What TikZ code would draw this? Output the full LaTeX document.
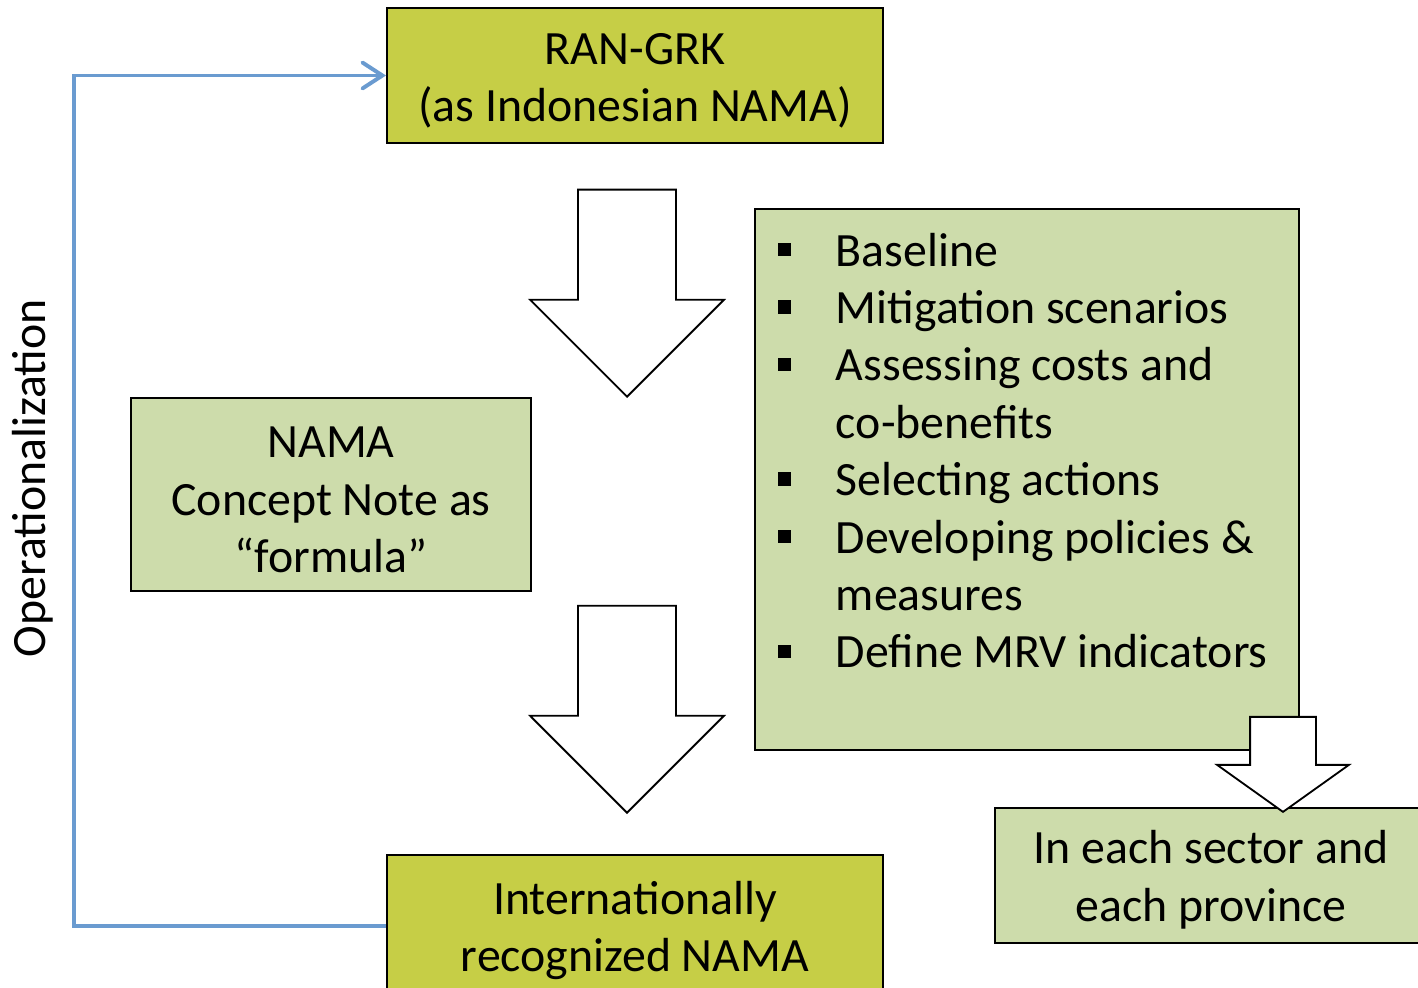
\documentclass[tikz,border=0pt]{standalone}
\usepackage{fontspec}
\setmainfont{Carlito}
\usetikzlibrary{positioning, arrows.meta, shapes.arrows}
\definecolor{olive}{HTML}{C6CE46}
\definecolor{sage}{HTML}{CDDCAB}
\definecolor{loopblue}{HTML}{6A9BD0}
\newcommand{\pitem}[1]{\par\noindent\hangindent=1.45cm\hangafter=1%
  \makebox[1.45cm][l]{\rule[0.25cm]{0.33cm}{0.33cm}}#1}
\newcommand{\topstrut}{\rule{0pt}{1.05cm}}
\tikzset{
  every node/.style = {font=\fontsize{34}{40.8}\selectfont, text=black},
  nbase/.style      = {draw=black, line width=1.3pt, align=center, inner sep=0pt},
  nplan/.style      = {nbase, fill=olive},
  nstep/.style      = {nbase, fill=sage},
  bigdown/.style    = {single arrow, draw=black, line width=1.3pt, fill=white,
                       inner xsep=1.2cm, inner ysep=0pt,
                       shape border rotate=270, single arrow tip angle=90,
                       minimum height=5.175cm, minimum width=4.8cm, single arrow head extend=1.2cm},
  smalldown/.style  = {single arrow, draw=black, line width=1.3pt, fill=white,
                       inner xsep=0.8cm, inner ysep=0pt,
                       shape border rotate=270, single arrow tip angle=109,
                       minimum height=2.375cm, minimum width=3.25cm, single arrow head extend=0.825cm},
  loopline/.style   = {draw=loopblue, line width=2.8pt,
                       -{Straight Barb[length=5mm,width=6.5mm,line cap=round]}},
}

\begin{document}
\begin{tikzpicture}[x=0.025cm, y=-0.025cm]
\useasboundingbox (0,0) rectangle (1418,987);
\clip (0,0) rectangle (1418,987);

\node[nplan, minimum width=12.4cm, minimum height=3.375cm] (ran) at (635,75.5)
  {\topstrut RAN-GRK\\(as Indonesian NAMA)};
\node[nstep, minimum width=10cm, minimum height=4.825cm] (note) at (331,494.5)
  {\topstrut NAMA\\Concept Note as\\“formula”};
\node[nplan, minimum width=12.4cm, minimum height=3.55cm] (intl) at (635,926)
  {\topstrut Internationally\\recognized NAMA};
\node[nstep, align=flush left, text width=12.45cm, inner xsep=0.575cm,
      minimum width=13.6cm, minimum height=13.525cm] (steps) at (1027,479.5)
  {\pitem{Baseline}
   \pitem{Mitigation scenarios}
   \pitem{Assessing costs and\newline co-benefits}
   \pitem{Selecting actions}
   \pitem{Developing policies \&\newline measures}
   \pitem{Define MRV indicators}\par\vspace{2.05cm}};
\node[nstep, minimum width=10.8cm, minimum height=3.375cm] (prov) at (1211,875.5)
  {\topstrut In each sector and\\each province};

\node[bigdown, anchor=tip] (down1) at (627,398) {};
\node[bigdown, anchor=tip] (down2) at (627,814) {};
\node[smalldown, anchor=tip] (down3) at (1283,813) {};

\node[rotate=90] (oper) at (33,478) {Operationalization};

\draw[loopline] (intl.west) -- ++(-312,0) |- (ran.west);
\end{tikzpicture}
\end{document}
